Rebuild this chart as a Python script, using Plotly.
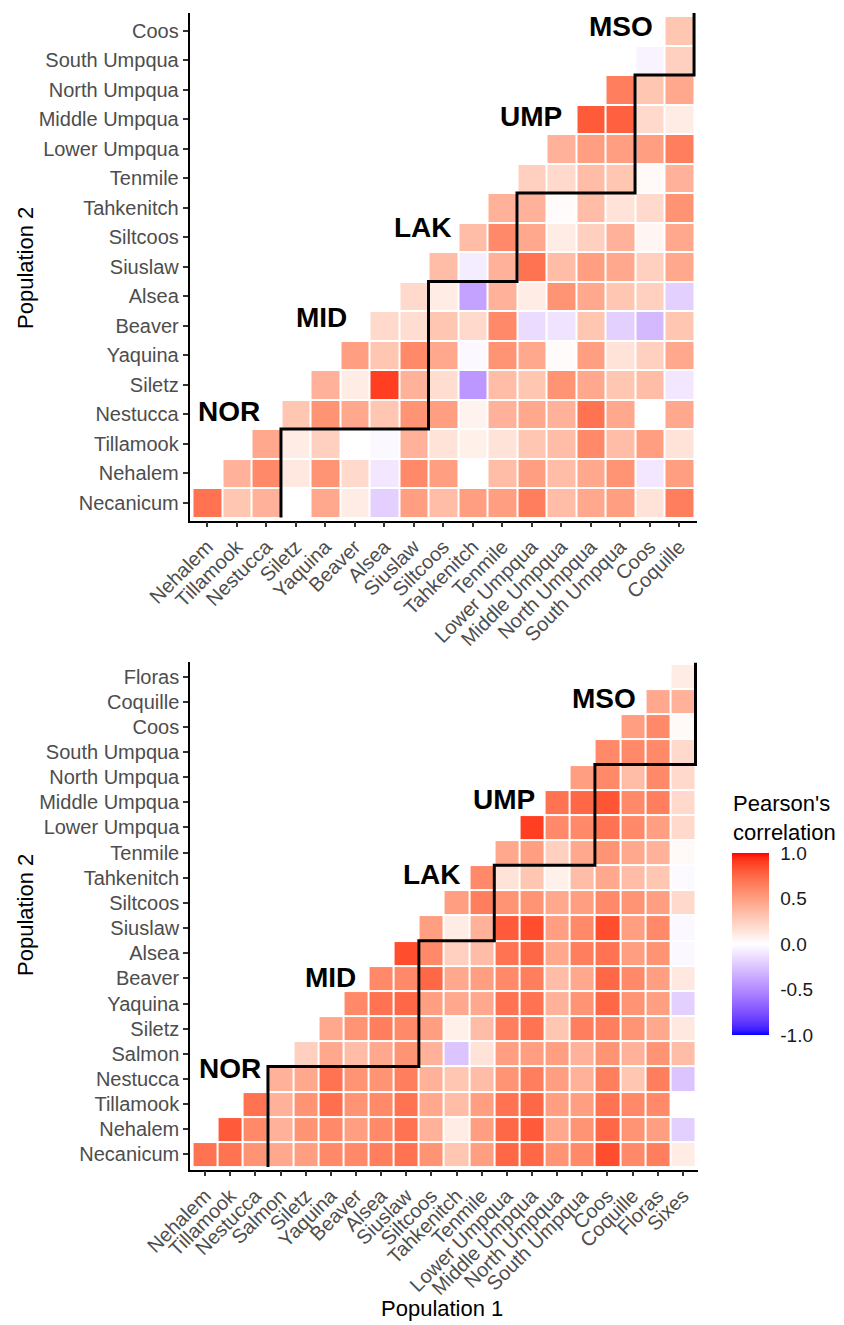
import plotly.graph_objects as go
import numpy as np

W, H = 844, 1325
FONT = "Liberation Sans, Arial, sans-serif"

# ---------------- data: top panel ----------------
top_x = ["Nehalem", "Tillamook", "Nestucca", "Siletz", "Yaquina", "Beaver", "Alsea",
         "Siuslaw", "Siltcoos", "Tahkenitch", "Tenmile", "Lower Umpqua", "Middle Umpqua",
         "North Umpqua", "South Umpqua", "Coos", "Coquille"]
top_y = ["Necanicum", "Nehalem", "Tillamook", "Nestucca", "Siletz", "Yaquina", "Beaver",
         "Alsea", "Siuslaw", "Siltcoos", "Tahkenitch", "Tenmile", "Lower Umpqua",
         "Middle Umpqua", "North Umpqua", "South Umpqua", "Coos"]
# each row j holds values for columns j..end
top_vals = [
    [0.70, 0.30, 0.40, 0.00, 0.45, 0.10, -0.20, 0.50, 0.35, 0.50, 0.50, 0.65, 0.35, 0.45, 0.50, 0.15, 0.65],
    [0.40, 0.60, 0.12, 0.55, 0.20, -0.10, 0.60, 0.50, 0.00, 0.35, 0.50, 0.35, 0.45, 0.55, -0.10, 0.50],
    [0.45, 0.10, 0.25, 0.00, -0.03, 0.40, 0.15, 0.08, 0.15, 0.30, 0.35, 0.60, 0.35, 0.50, 0.15],
    [0.30, 0.55, 0.45, 0.30, 0.55, 0.50, 0.06, 0.40, 0.45, 0.40, 0.70, 0.45, 0.00, 0.45],
    [0.40, 0.10, 0.90, 0.40, 0.18, -0.45, 0.35, 0.30, 0.55, 0.45, 0.30, 0.35, -0.10],
    [0.50, 0.30, 0.60, 0.45, -0.03, 0.55, 0.45, 0.02, 0.50, 0.15, 0.25, 0.45],
    [0.20, 0.18, 0.30, 0.20, 0.60, -0.15, -0.12, 0.30, -0.20, -0.30, 0.30],
    [0.20, 0.10, -0.40, 0.40, 0.10, 0.55, 0.45, 0.30, 0.25, -0.20],
    [0.35, -0.08, 0.40, 0.70, 0.35, 0.50, 0.45, 0.25, 0.45],
    [0.35, 0.60, 0.45, 0.10, 0.25, 0.40, 0.05, 0.45],
    [0.40, 0.40, 0.02, 0.35, 0.15, 0.20, 0.55],
    [0.25, 0.20, 0.35, 0.30, 0.03, 0.40],
    [0.40, 0.50, 0.50, 0.50, 0.65],
    [0.80, 0.78, 0.20, 0.10],
    [0.65, 0.30, 0.45],
    [-0.05, 0.25],
    [0.30],
]
top_group_end_x = ["Nestucca", "Siuslaw", "Tenmile", "South Umpqua"]
top_group_end_y = ["Tillamook", "Alsea", "Tahkenitch", "North Umpqua"]
top_labels = ["NOR", "MID", "LAK", "UMP", "MSO"]
top_label_x = [0.75, 3.86, 7.3, 10.98, 14.03]
top_label_y = [3.1, 6.27, 9.33, 13.1, 16.15]

# ---------------- data: bottom panel ----------------
bot_x = ["Nehalem", "Tillamook", "Nestucca", "Salmon", "Siletz", "Yaquina", "Beaver", "Alsea",
         "Siuslaw", "Siltcoos", "Tahkenitch", "Tenmile", "Lower Umpqua", "Middle Umpqua",
         "North Umpqua", "South Umpqua", "Coos", "Coquille", "Floras", "Sixes"]
bot_y = ["Necanicum", "Nehalem", "Tillamook", "Nestucca", "Salmon", "Siletz", "Yaquina",
         "Beaver", "Alsea", "Siuslaw", "Siltcoos", "Tahkenitch", "Tenmile", "Lower Umpqua",
         "Middle Umpqua", "North Umpqua", "South Umpqua", "Coos", "Coquille", "Floras"]
bot_vals = [
    [0.70, 0.70, 0.55, 0.45, 0.50, 0.60, 0.60, 0.65, 0.70, 0.55, 0.30, 0.50, 0.75, 0.75, 0.55, 0.60, 0.85, 0.60, 0.65, 0.10],
    [0.80, 0.60, 0.40, 0.55, 0.60, 0.50, 0.60, 0.70, 0.40, 0.10, 0.50, 0.75, 0.80, 0.45, 0.55, 0.75, 0.55, 0.50, -0.20],
    [0.70, 0.40, 0.55, 0.72, 0.55, 0.60, 0.70, 0.45, 0.35, 0.50, 0.70, 0.75, 0.50, 0.50, 0.70, 0.60, 0.60, 0.00],
    [0.40, 0.45, 0.70, 0.55, 0.55, 0.65, 0.40, 0.30, 0.35, 0.55, 0.65, 0.50, 0.40, 0.65, 0.30, 0.65, -0.25],
    [0.25, 0.45, 0.35, 0.45, 0.55, 0.40, -0.25, 0.15, 0.50, 0.50, 0.50, 0.40, 0.55, 0.40, 0.55, 0.35],
    [0.45, 0.55, 0.65, 0.60, 0.50, 0.08, 0.35, 0.65, 0.70, 0.30, 0.65, 0.65, 0.55, 0.45, 0.12],
    [0.60, 0.70, 0.75, 0.50, 0.45, 0.45, 0.70, 0.70, 0.40, 0.55, 0.75, 0.55, 0.50, -0.20],
    [0.60, 0.60, 0.75, 0.45, 0.50, 0.60, 0.65, 0.35, 0.45, 0.75, 0.60, 0.50, 0.12],
    [0.85, 0.60, 0.25, 0.35, 0.70, 0.75, 0.45, 0.65, 0.70, 0.50, 0.55, -0.03],
    [0.50, 0.10, 0.40, 0.80, 0.85, 0.50, 0.60, 0.85, 0.50, 0.60, -0.03],
    [0.50, 0.65, 0.55, 0.55, 0.45, 0.50, 0.60, 0.55, 0.50, 0.20],
    [0.60, 0.15, 0.30, 0.08, 0.35, 0.45, 0.35, 0.30, -0.02],
    [0.45, 0.50, 0.25, 0.45, 0.55, 0.45, 0.40, 0.03],
    [0.90, 0.60, 0.60, 0.70, 0.60, 0.50, 0.20],
    [0.70, 0.75, 0.82, 0.60, 0.65, 0.20],
    [0.50, 0.60, 0.35, 0.60, 0.20],
    [0.60, 0.60, 0.60, 0.20],
    [0.50, 0.60, 0.03],
    [0.45, 0.40],
    [0.10],
]
bot_group_end_x = ["Nestucca", "Siuslaw", "Tenmile", "South Umpqua"]
bot_group_end_y = ["Nestucca", "Alsea", "Tahkenitch", "North Umpqua"]
bot_labels = ["NOR", "MID", "LAK", "UMP", "MSO"]
bot_label_x = [0.99, 4.98, 9.04, 11.88, 15.87]
bot_label_y = [3.41, 7.04, 11.14, 14.1, 18.13]

legend_ticks = [-1.0, -0.5, 0.0, 0.5, 1.0]


# ---------------- colour scale (Lab interpolation like ggplot2) ----------------
def _lin(c):
    c = c / 255.0
    return c / 12.92 if c <= 0.04045 else ((c + 0.055) / 1.055) ** 2.4


def _unlin(c):
    c = 12.92 * c if c <= 0.0031308 else 1.055 * c ** (1 / 2.4) - 0.055
    return min(255, max(0, round(c * 255)))


WN = (0.95047, 1.0, 1.08883)


def rgb2lab(rgb):
    r, g, b = [_lin(v) for v in rgb]
    X = 0.4124 * r + 0.3576 * g + 0.1805 * b
    Y = 0.2126 * r + 0.7152 * g + 0.0722 * b
    Z = 0.0193 * r + 0.1192 * g + 0.9505 * b

    def f(t):
        return t ** (1 / 3) if t > 0.008856 else 7.787 * t + 16 / 116
    fx, fy, fz = f(X / WN[0]), f(Y / WN[1]), f(Z / WN[2])
    return (116 * fy - 16, 500 * (fx - fy), 200 * (fy - fz))


def lab2rgb(lab):
    L, a, b = lab
    fy = (L + 16) / 116
    fx = fy + a / 500
    fz = fy - b / 200

    def finv(t):
        return t ** 3 if t ** 3 > 0.008856 else (t - 16 / 116) / 7.787
    X, Y, Z = finv(fx) * WN[0], finv(fy) * WN[1], finv(fz) * WN[2]
    r = 3.2406 * X - 1.5372 * Y - 0.4986 * Z
    g = -0.9689 * X + 1.8758 * Y + 0.0415 * Z
    bb = 0.0557 * X - 0.2040 * Y + 1.0570 * Z
    return tuple(_unlin(max(0.0, v)) for v in (r, g, bb))


low, mid, high = rgb2lab((0, 0, 255)), rgb2lab((255, 255, 255)), rgb2lab((255, 0, 0))
colorscale = []
for v in np.linspace(-1, 1, 41):
    if v < 0:
        t = v + 1
        a, b = low, mid
    else:
        t = v
        a, b = mid, high
    lab = tuple(a[i] + (b[i] - a[i]) * t for i in range(3))
    r, g, bl = lab2rgb(lab)
    colorscale.append([(v + 1) / 2, f"rgb({r},{g},{bl})"])


def to_matrix(rows):
    return [[None] * j + list(r) for j, r in enumerate(rows)]


def staircase(xnames, ynames, end_x, end_y, ytop):
    bx = [xnames.index(n) + 0.5 for n in end_x] + [len(xnames) - 0.5]
    by = [ynames.index(n) + 0.5 for n in end_y] + [ytop]
    xs, ys = [bx[0]], [-0.5]
    for i in range(len(bx) - 1):
        xs += [bx[i], bx[i + 1]]
        ys += [by[i], by[i]]
    xs.append(bx[-1])
    ys.append(by[-1])
    return xs, ys


def px_x(p):
    return p / W


def px_y(p):
    return 1 - p / H


fig = go.Figure()

fig.add_trace(go.Heatmap(z=to_matrix(top_vals), x=list(range(len(top_x))), y=list(range(len(top_y))),
                         coloraxis="coloraxis", xgap=2, ygap=2, xaxis="x", yaxis="y",
                         hoverongaps=False))
fig.add_trace(go.Heatmap(z=to_matrix(bot_vals), x=list(range(len(bot_x))), y=list(range(len(bot_y))),
                         coloraxis="coloraxis", xgap=2, ygap=2, xaxis="x2", yaxis="y2",
                         hoverongaps=False))

sx, sy = staircase(top_x, top_y, top_group_end_x, top_group_end_y, 16.6)
fig.add_trace(go.Scatter(x=sx, y=sy, mode="lines", line=dict(color="black", width=3),
                         xaxis="x", yaxis="y", showlegend=False, cliponaxis=False))
sx, sy = staircase(bot_x, bot_y, bot_group_end_x, bot_group_end_y, 19.55)
fig.add_trace(go.Scatter(x=sx, y=sy, mode="lines", line=dict(color="black", width=3),
                         xaxis="x2", yaxis="y2", showlegend=False, cliponaxis=False))

ann = []
for t, x, y in zip(top_labels, top_label_x, top_label_y):
    ann.append(dict(text=f"<b>{t}</b>", x=x, y=y, xref="x", yref="y", showarrow=False,
                    xanchor="center", yanchor="middle",
                    font=dict(family=FONT, size=28, color="black")))
for t, x, y in zip(bot_labels, bot_label_x, bot_label_y):
    ann.append(dict(text=f"<b>{t}</b>", x=x, y=y, xref="x2", yref="y2", showarrow=False,
                    xanchor="center", yanchor="middle",
                    font=dict(family=FONT, size=28, color="black")))

title_font = dict(family=FONT, size=22, color="black")
for yc in (268, 915):
    ann.append(dict(text="Population 2", x=px_x(25), y=px_y(yc), xref="paper", yref="paper",
                    xanchor="center", yanchor="middle", showarrow=False, textangle=-90,
                    font=title_font))
ann.append(dict(text="Population 1", x=px_x(442), y=px_y(1308), xref="paper", yref="paper",
                xanchor="center", yanchor="middle", showarrow=False, font=title_font))
ann.append(dict(text="Pearson's<br>correlation", x=px_x(731), y=px_y(818), xref="paper",
                yref="paper", xanchor="left", yanchor="middle", align="left", showarrow=False,
                font=title_font))

tickfont = dict(family=FONT, size=20, color="#4D4D4D")
common = dict(showline=True, linecolor="black", linewidth=1.5, ticks="outside", ticklen=5,
              tickwidth=1.5, tickcolor="#333333", showgrid=False, zeroline=False,
              tickfont=tickfont, fixedrange=True, automargin=False)

fig.update_layout(
    width=W, height=H, margin=dict(l=0, r=0, t=0, b=0, autoexpand=False),
    paper_bgcolor="white", plot_bgcolor="white", showlegend=False,
    xaxis=dict(domain=[px_x(189.5), px_x(697)], range=[-0.6, len(top_x) - 0.4], anchor="y",
               tickvals=list(range(len(top_x))), ticktext=top_x, tickangle=-45, **common),
    yaxis=dict(domain=[px_y(520.5), px_y(13)], range=[-0.6, len(top_y) - 0.4], anchor="x",
               tickvals=list(range(len(top_y))), ticktext=top_y, **common),
    xaxis2=dict(domain=[px_x(190), px_x(698)], range=[-0.6, len(bot_x) - 0.4], anchor="y2",
                tickvals=list(range(len(bot_x))), ticktext=bot_x, tickangle=-45, **common),
    yaxis2=dict(domain=[px_y(1169.5), px_y(661.5)], range=[-0.6, len(bot_y) - 0.4], anchor="x2",
                tickvals=list(range(len(bot_y))), ticktext=bot_y, **common),
    coloraxis=dict(
        colorscale=colorscale, cmin=-1, cmax=1,
        colorbar=dict(x=px_x(732), xanchor="left", xpad=0, y=px_y(944), yanchor="middle", ypad=0,
                      len=182, lenmode="pixels", thickness=37, thicknessmode="pixels",
                      outlinewidth=0, tickvals=legend_ticks,
                      ticktext=[f"{v:.1f}" for v in legend_ticks],
                      ticks="outside", ticklen=8, tickwidth=1, tickcolor="white",
                      tickfont=dict(family=FONT, size=19, color="#1a1a1a")),
    ),
    annotations=ann,
)

fig.write_html("out.html")
